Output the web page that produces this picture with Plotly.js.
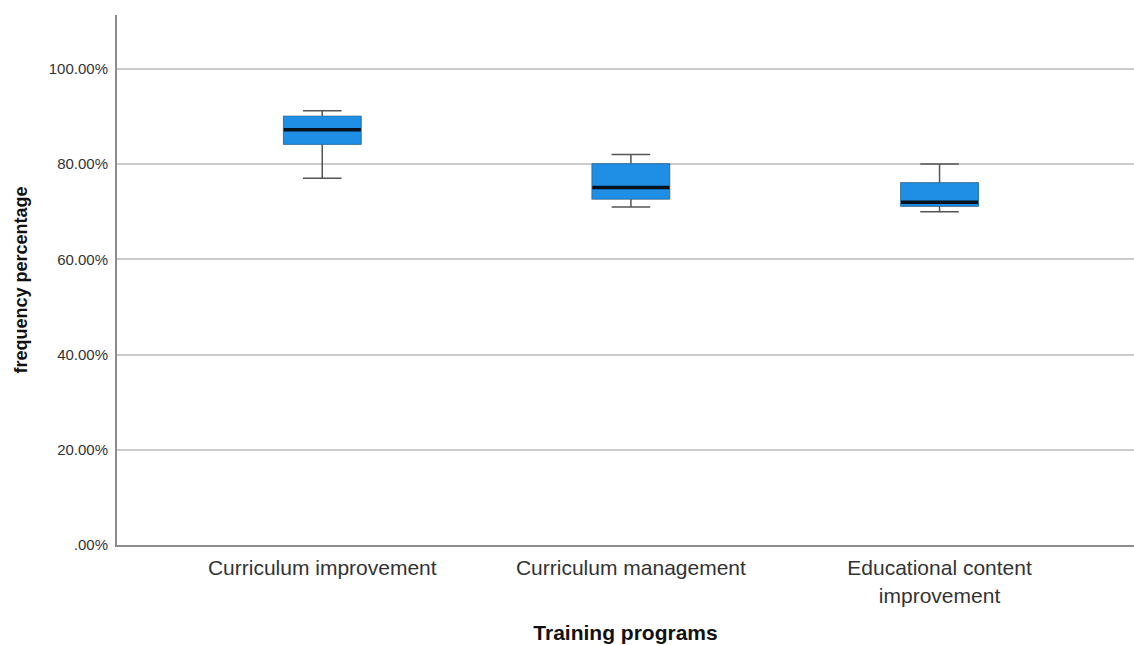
<!DOCTYPE html>
<html>
<head>
<meta charset="utf-8">
<script src="https://cdn.plot.ly/plotly-3.0.1.min.js"></script>
<style>
  html, body { margin: 0; padding: 0; background: #ffffff; }
  #chart { width: 1134px; height: 645px; }
</style>
</head>
<body>
<div id="chart"></div>
<script>
// Data (percent values)
const categories = ['Curriculum improvement', 'Curriculum management', 'Educational content<br>improvement'];
const lowerWhisker = [77.0, 71.0, 70.0];
const q1Values = [84.2, 72.7, 71.2];
const medianValues = [87.2, 75.1, 72.0];
const q3Values = [90.0, 80.0, 76.0];
const upperWhisker = [91.2, 82.0, 80.0];
const yTickVals = [0, 20, 40, 60, 80, 100];
const yTickText = ['.00%', '20.00%', '40.00%', '60.00%', '80.00%', '100.00%'];

const boxBlue = '#1f8fe6';
const font = 'Liberation Sans, Arial, sans-serif';

const common = {
  type: 'box',
  x: categories,
  width: 0.25,
  boxpoints: false,
  showlegend: false,
  hoverinfo: 'skip'
};

// whiskers (gray), full box
const whiskerTrace = Object.assign({}, common, {
  q1: q1Values, median: medianValues, q3: q3Values,
  lowerfence: lowerWhisker, upperfence: upperWhisker,
  whiskerwidth: 0.5,
  fillcolor: boxBlue,
  line: { color: '#555555', width: 1.5 }
});

// box body (blue outline covers gray outline)
const bodyTrace = Object.assign({}, common, {
  q1: q1Values, median: medianValues, q3: q3Values,
  lowerfence: q1Values, upperfence: q3Values,
  whiskerwidth: 0,
  fillcolor: boxBlue,
  line: { color: '#1a86d9', width: 1 }
});

// median line (dark)
const medianTrace = Object.assign({}, common, {
  q1: medianValues, median: medianValues, q3: medianValues,
  lowerfence: medianValues, upperfence: medianValues,
  whiskerwidth: 0,
  fillcolor: 'rgba(0,0,0,0)',
  line: { color: '#08121e', width: 3.5 }
});

const layout = {
  width: 1134,
  height: 645,
  margin: { l: 117, r: 0, t: 15, b: 100 },
  paper_bgcolor: '#ffffff',
  plot_bgcolor: '#ffffff',
  boxmode: 'overlay',
  font: { family: font, color: '#222222' },
  xaxis: {
    type: 'category',
    range: [-0.665, 2.63],
    showline: true,
    linecolor: '#8c8c8c',
    linewidth: 2,
    showgrid: false,
    zeroline: false,
    ticks: '',
    ticklabelstandoff: 3,
    tickfont: { family: font, size: 21, color: '#333333' },
    title: { text: 'Training programs', font: { family: font, size: 21, color: '#111111', weight: 'bold' }, standoff: 20 },
    fixedrange: true
  },
  yaxis: {
    range: [0, 111.3],
    tickvals: yTickVals,
    ticktext: yTickText,
    showline: true,
    linecolor: '#8c8c8c',
    linewidth: 2,
    showgrid: true,
    gridcolor: '#cccccc',
    gridwidth: 2,
    zeroline: false,
    ticks: '',
    ticklabelstandoff: 4,
    tickfont: { family: font, size: 15, color: '#333333' },
    title: { text: 'frequency percentage', font: { family: font, size: 18, color: '#111111', weight: 'bold' }, standoff: 16 },
    fixedrange: true
  }
};

Plotly.newPlot('chart', [whiskerTrace, bodyTrace, medianTrace], layout, { displayModeBar: false, staticPlot: true });
</script>
</body>
</html>
